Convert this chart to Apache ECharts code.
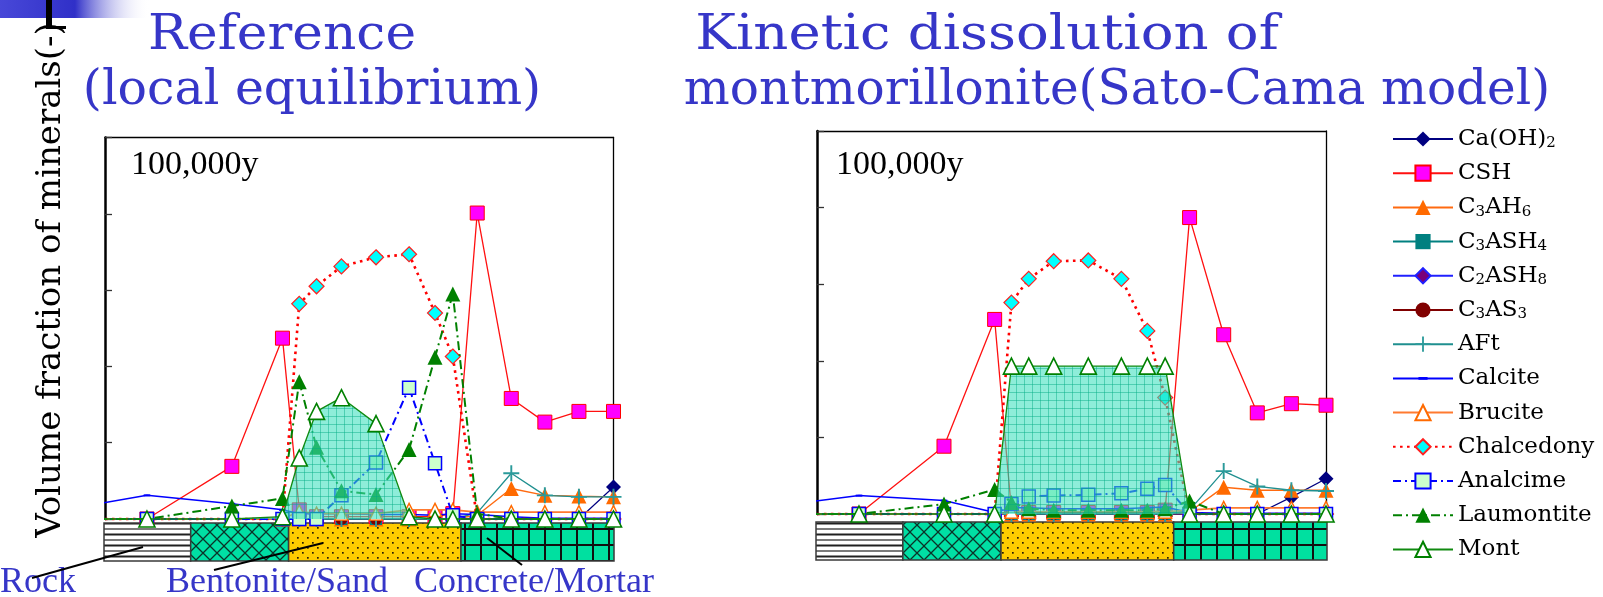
<!DOCTYPE html>
<html><head><meta charset="utf-8">
<script src="https://cdn.jsdelivr.net/npm/echarts@6/dist/echarts.min.js"></script>
<style>html,body{margin:0;padding:0;background:#fff;}#c{width:1603px;height:597px;}</style>
</head><body><div id="c"></div>
<script>
// ---------- DATA ----------
const nodeX = [-1.4, 8.25, 24.95, 34.9, 38.2, 41.6, 46.5, 53.3, 59.8, 64.9, 68.4, 73.2, 79.9, 86.5, 93.2, 100];
const minerals = ['Ca(OH)2','CSH','C3AH6','C3ASH4','C2ASH8','C3AS3','AFt','Calcite','Brucite','Chalcedony','Analcime','Laumontite','Mont'];
const yTicks = [0, 1, 2, 3, 4, 5];

// Reference (local equilibrium)
const refCaOH2      = [0,0,0,0,0,0,0,0,0,0,0,0,0,0,0,0.42];
const refCSH        = [0,0,0.69,2.37,0.12,0.03,0.03,0.03,0.03,0.03,0.07,4.01,1.58,1.27,1.41,1.41];
const refC3AH6      = [0,0,0,0,0,0,0,0,0,0,0,0.05,0.40,0.31,0.30,0.29];
const refC3ASH4     = [0,0,0,0,0,0,0,0,0,0,0,0,0,0,0,0];
const refC2ASH8     = [0,0,0,0,0,0,0,0,0,0,0,0,0,0,0,0];
const refC3AS3      = [0,0,0,0,0,0,0,0,0,0,0,0,0,0,0,0];
const refAFt        = [0,0,0,0,0,0,0,0,0,0,0,0.08,0.60,0.31,0.29,0.29];
const refCalcite    = [0.20,0.31,0.20,0.12,0.07,0.07,0.07,0.06,0.06,0.05,0.07,0.06,0.03,0.01,0.01,0.01];
const refBrucite    = [0,0,0,0,0.10,0.07,0.07,0.07,0.12,0.12,0.12,0.09,0.09,0.09,0.09,0.09];
const refChalcedony = [0,0,0,0,2.82,3.05,3.31,3.43,3.47,2.70,2.13,0,0,0,0,0];
const refAnalcime   = [0,0,0,0,0,0,0.31,0.74,1.72,0.73,0.05,0,0,0,0,0];
const refLaumontite = [0,0,0.17,0.27,1.80,0.94,0.37,0.32,0.91,2.12,2.95,0.07,0,0,0,0];
const refMont       = [0,0,0,0.03,0.80,1.41,1.59,1.25,0.03,0,0,0,0,0,0,0];

// Kinetic dissolution of montmorillonite
const kinCaOH2      = [0,0,0,0,0,0,0,0,0,0,0,0,0,0,0.22,0.46];
const kinCSH        = [0,0,0.885,2.54,0.05,0.02,0.02,0.02,0.02,0.02,0.05,3.87,2.34,1.32,1.44,1.42];
const kinC3AH6      = [0,0,0,0,0,0,0,0,0,0,0,0.03,0.35,0.31,0.31,0.31];
const kinC3ASH4     = [0,0,0,0,0,0,0,0,0,0,0,0,0,0,0,0];
const kinC2ASH8     = [0,0,0,0,0,0,0,0,0,0,0,0,0,0,0,0];
const kinC3AS3      = [0,0,0,0,0,0,0,0,0,0,0,0,0,0,0,0];
const kinAFt        = [0,0,0,0,0,0,0,0,0,0,0,0.05,0.56,0.36,0.31,0.30];
const kinCalcite    = [0.16,0.24,0.175,0.02,0.08,0.08,0.07,0.07,0.07,0.08,0.09,0.02,0.01,0.01,0.01,0.01];
const kinBrucite    = [0,0,0,0,0.03,0.03,0.03,0.03,0.03,0.03,0.03,0.05,0.08,0.08,0.08,0.08];
const kinChalcedony = [0,0,0,0,2.76,3.07,3.30,3.31,3.07,2.39,1.52,0,0,0,0,0];
const kinAnalcime   = [0,0,0,0,0.13,0.23,0.24,0.25,0.27,0.33,0.38,0,0,0,0,0];
const kinLaumontite = [0,0,0.13,0.32,0.15,0.07,0.05,0.05,0.05,0.05,0.07,0.17,0,0,0,0];
const kinMont       = [0,0,0,0,1.93,1.93,1.93,1.93,1.93,1.93,1.93,0,0,0,0,0];

// material zones along the x axis
const zoneNames = ['Rock','Bentonite','Sand','Concrete'];
const zoneEdges = [0, 17.0, 36.2, 70.0, 100];

const titles = ['Reference', '(local equilibrium)', 'Kinetic dissolution of', 'montmorillonite(Sato-Cama model)'];
const yName = 'Volume fraction of minerals(-)';
const timeLabel = '100,000y';
const bottomLabels = ['Rock', 'Bentonite/Sand', 'Concrete/Mortar'];

const refData = [refCaOH2,refCSH,refC3AH6,refC3ASH4,refC2ASH8,refC3AS3,refAFt,refCalcite,refBrucite,refChalcedony,refAnalcime,refLaumontite,refMont];
const kinData = [kinCaOH2,kinCSH,kinC3AH6,kinC3ASH4,kinC2ASH8,kinC3AS3,kinAFt,kinCalcite,kinBrucite,kinChalcedony,kinAnalcime,kinLaumontite,kinMont];

// ---------- PATTERNS ----------
function mk(w,h,draw){const c=document.createElement('canvas');c.width=w;c.height=h;draw(c.getContext('2d'));return c;}
const rockPat = mk(8,11,g=>{g.fillStyle='#fff';g.fillRect(0,0,8,11);g.fillStyle='#7a7a7a';g.fillRect(0,0,8,2);g.fillStyle='#202020';g.fillRect(0,5.5,8,2);});
const bentPat = mk(14,14,g=>{g.fillStyle='#00dfa4';g.fillRect(0,0,14,14);g.strokeStyle='#0b3328';g.lineWidth=1.3;g.beginPath();g.moveTo(-1,-1);g.lineTo(15,15);g.moveTo(15,-1);g.lineTo(-1,15);g.stroke();});
const sandPat = mk(10,10,g=>{g.fillStyle='#ffcc00';g.fillRect(0,0,10,10);g.fillStyle='#2a2000';g.fillRect(2,2,1.7,1.7);g.fillRect(7,7,1.7,1.7);});
const concPat = mk(16,16,g=>{g.fillStyle='#00e0a0';g.fillRect(0,0,16,16);g.fillStyle='#101010';g.fillRect(0,0,2,16);g.fillRect(0,0,16,2);});
const montPat = mk(8,8,g=>{g.fillStyle='rgba(60,224,190,0.58)';g.fillRect(0,0,8,8);g.fillStyle='rgba(0,170,130,0.45)';g.fillRect(0,0,8,1);g.fillRect(0,0,1,8);});
const zonePatterns = [rockPat, bentPat, sandPat, concPat].map(c=>({image:c, repeat:'repeat'}));

// ---------- STYLES ----------
const plusPath = 'path://M4.4,0h1.2v4.4h4.4v1.2h-4.4v4.4h-1.2v-4.4h-4.4v-1.2h4.4z';
const dashPath = 'path://M0,0M2,4.1h6v1.8h-6zM10,10';
const styles = {
 'Ca(OH)2':   {symbol:'diamond', size:15, line:{color:'#000080',width:1.2}, item:{color:'#000080'}},
 'CSH':       {symbol:'rect', size:14, line:{color:'#ff1010',width:1.3}, item:{color:'#ff00ff',borderColor:'#ff0000',borderWidth:1}},
 'C3AH6':     {symbol:'triangle', size:15, line:{color:'#ff6a10',width:1.4}, item:{color:'#ff6a00'}},
 'C3ASH4':    {symbol:'rect', size:12, line:{color:'#008080',width:1.2}, item:{color:'#008080'}},
 'C2ASH8':    {symbol:'diamond', size:13, line:{color:'#2020ff',width:1.2}, item:{color:'#7a007a',borderColor:'#2020ff',borderWidth:1}},
 'C3AS3':     {symbol:'circle', size:12, line:{color:'#800000',width:1.2}, item:{color:'#800000'}},
 'AFt':       {symbol:plusPath, size:16, line:{color:'#1f8f8f',width:1.3}, item:{color:'#2a9a9a'}},
 'Calcite':   {symbol:dashPath, size:11, line:{color:'#0000ff',width:1.5}, item:{color:'#0000ff'}},
 'Brucite':   {symbol:'triangle', size:13, line:{color:'#ff7a30',width:1.6}, item:{color:'#ffffff',borderColor:'#ff6a00',borderWidth:1.4}},
 'Chalcedony':{symbol:'diamond', size:15, line:{color:'#ff0000',width:2.6,type:[2.6,4.4]}, item:{color:'#00ffff',borderColor:'#ff2020',borderWidth:1.2}},
 'Analcime':  {symbol:'rect', size:13, line:{color:'#0000ff',width:2,type:[8,4,2,4]}, item:{color:'#ccffcc',borderColor:'#0000ff',borderWidth:1.5}},
 'Laumontite':{symbol:'triangle', size:15, line:{color:'#008000',width:2,type:[9,4,2,4]}, item:{color:'#008000'}},
 'Mont':      {symbol:'triangle', size:16, line:{color:'#108a10',width:1.3}, item:{color:'#ffffff',borderColor:'#008000',borderWidth:1.6}}
};

function makeSeries(dataSets, axisIdx) {
  return minerals.map((name, i) => {
    const st = styles[name];
    const s = {
      type:'line', name, xAxisIndex:axisIdx, yAxisIndex:axisIdx,
      data: dataSets[i].map((v, k) => k === 0 ? {value:[nodeX[k], v], symbol:'none'} : [nodeX[k], v]),
      symbol: st.symbol, symbolSize: st.size,
      lineStyle: Object.assign({}, st.line), itemStyle: Object.assign({}, st.item),
      clip:false, animation:false, emphasis:{disabled:true}, z: 3 + i*0.01
    };
    if (name === 'Mont') s.areaStyle = {color:{image:montPat, repeat:'repeat'}, opacity:1};
    return s;
  });
}

function stripSeries(axisIdx) {
  return {
    type:'custom', xAxisIndex:axisIdx, yAxisIndex:axisIdx, silent:true, animation:false, clip:false,
    data: zoneNames.map((n,i)=>[zoneEdges[i], zoneEdges[i+1], i]),
    renderItem(params, api) {
      const p0 = api.coord([api.value(0), 1]);
      const p1 = api.coord([api.value(1), 0]);
      return {type:'rect', shape:{x:p0[0], y:p0[1], width:p1[0]-p0[0], height:p1[1]-p0[1]},
              style:{fill: zonePatterns[api.value(2)], stroke:'#3a3a3a', lineWidth:1.5}};
    }
  };
}

function subRich(name){ return name.replace(/(\D+)|(\d+)/g, (m,a,b)=> a ? '{n|'+a+'}' : '{s|'+b+'}'); }

const grids = [
  {left:105, top:137.5, width:508.5, height:381.5},
  {left:104, top:523, width:510, height:38},
  {left:817, top:131, width:509, height:383},
  {left:816, top:522, width:511, height:38}
];
const hidden = {show:false};
function plotX(g){return {type:'value', gridIndex:g, min:0, max:100, show:false};}
function topX(g){return {type:'value', gridIndex:g, min:0, max:100, position:'top', axisLine:{show:true,onZero:false,lineStyle:{color:'#000',width:1.3}}, axisTick:hidden, axisLabel:hidden, splitLine:hidden};}
function leftY(g){return {type:'value', gridIndex:g, min:yTicks[0], max:yTicks[yTicks.length-1], interval:1, axisLine:{show:true,onZero:false,lineStyle:{color:'#000',width:2.5}}, axisTick:{show:true,inside:true,length:7,lineStyle:{color:'#333',width:1.3}}, axisLabel:hidden, splitLine:hidden};}
function rightY(g){return {type:'value', gridIndex:g, min:0, max:5, position:'right', axisLine:{show:true,onZero:false,lineStyle:{color:'#000',width:1.3}}, axisTick:hidden, axisLabel:hidden, splitLine:hidden};}
function stripX(g){return {type:'value', gridIndex:g, min:0, max:100, show:false};}
function stripY(g){return {type:'value', gridIndex:g, min:0, max:1, show:false};}

const xAxis = [plotX(0), stripX(1), plotX(2), stripX(3), topX(0), topX(2)];
const yAxis = [leftY(0), stripY(1), leftY(2), stripY(3), rightY(0), rightY(2)];

const blue = '#3636c8';
const graphic = [
  {type:'rect', shape:{x:0,y:0,width:150,height:18}, style:{fill:{type:'linear',x:0,y:0,x2:1,y2:0,colorStops:[{offset:0,color:'#4848d8'},{offset:0.5,color:'#3030c8'},{offset:1,color:'rgba(255,255,255,0)'}]}}, z:0},
  {type:'rect', shape:{x:46,y:0,width:6,height:29}, style:{fill:'#000'}, z:1},
  {type:'rect', shape:{x:46,y:26,width:20,height:3}, style:{fill:'#000'}, z:1},
  {type:'text', x:282, y:37, scaleX:1.08, style:{text:titles[0], font:'48px "DejaVu Serif"', fill:blue, align:'center', verticalAlign:'middle'}},
  {type:'text', x:312, y:92, scaleX:1.02, style:{text:titles[1], font:'48px "DejaVu Serif"', fill:blue, align:'center', verticalAlign:'middle'}},
  {type:'text', x:987, y:37, scaleX:1.135, style:{text:titles[2], font:'48px "DejaVu Serif"', fill:blue, align:'center', verticalAlign:'middle'}},
  {type:'text', x:1117, y:92, scaleX:1.01, style:{text:titles[3], font:'48px "DejaVu Serif"', fill:blue, align:'center', verticalAlign:'middle'}},
  {type:'text', x:51, y:280, rotation:Math.PI/2, style:{text:yName, font:'34px "DejaVu Serif"', fill:'#000', align:'center', verticalAlign:'middle'}},
  {type:'text', x:131, y:165, style:{text:timeLabel, font:'34px "Liberation Serif"', fill:'#000', align:'left', verticalAlign:'middle'}},
  {type:'text', x:836, y:165, style:{text:timeLabel, font:'34px "Liberation Serif"', fill:'#000', align:'left', verticalAlign:'middle'}},
  {type:'text', x:0, y:583, style:{text:bottomLabels[0], font:'36px "Liberation Serif"', fill:blue, align:'left', verticalAlign:'middle'}},
  {type:'text', x:166, y:583, style:{text:bottomLabels[1], font:'36px "Liberation Serif"', fill:blue, align:'left', verticalAlign:'middle'}},
  {type:'text', x:414, y:583, style:{text:bottomLabels[2], font:'36px "Liberation Serif"', fill:blue, align:'left', verticalAlign:'middle'}},
  {type:'line', shape:{x1:32,y1:578,x2:143,y2:547}, style:{stroke:'#000',lineWidth:2}, z:100},
  {type:'line', shape:{x1:214,y1:570,x2:323,y2:543}, style:{stroke:'#000',lineWidth:2}, z:100},
  {type:'line', shape:{x1:487,y1:538,x2:522,y2:565}, style:{stroke:'#000',lineWidth:2}, z:100}
];

const option = {
  animation:false,
  backgroundColor:'#fff',
  grid: grids,
  xAxis, yAxis,
  legend: {
    data: minerals, orient:'vertical', left:1387, top:122, itemWidth:60, itemHeight:19, itemGap:10.2,
    selectedMode:false,
    formatter: subRich,
    textStyle:{fontFamily:'DejaVu Serif', fontSize:23, color:'#000', lineHeight:24,
      rich:{n:{fontFamily:'DejaVu Serif', fontSize:23, lineHeight:24, color:'#000'},
            s:{fontFamily:'DejaVu Serif', fontSize:15, lineHeight:10, verticalAlign:'bottom', color:'#000'}}}
  },
  graphic,
  series: [stripSeries(1), stripSeries(3), ...makeSeries(refData, 0), ...makeSeries(kinData, 2)]
};
const chart = echarts.init(document.getElementById('c'), null, {renderer:'canvas'});
chart.setOption(option);
</script></body></html>
